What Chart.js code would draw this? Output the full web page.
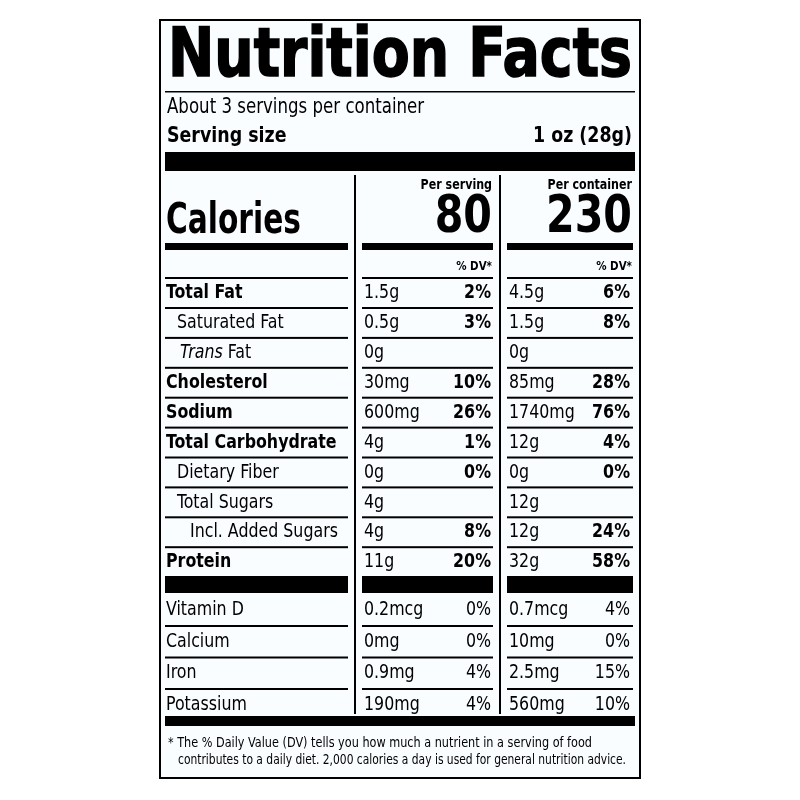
<!DOCTYPE html>
<html><head><meta charset="utf-8">
<script src="https://cdn.jsdelivr.net/npm/chart.js@4"></script>
<style>html,body{margin:0;padding:0;background:#fff}</style>
</head><body>
<canvas id="c" width="800" height="800"></canvas>
<script>
const nutrients = ["Total Fat","Saturated Fat","Trans Fat","Cholesterol","Sodium","Total Carbohydrate","Dietary Fiber","Total Sugars","Incl. Added Sugars","Protein"];
const servingAmt = ["1.5g","0.5g","0g","30mg","600mg","4g","0g","4g","4g","11g"];
const servingDV = ["2%","3%","","10%","26%","1%","0%","","8%","20%"];
const containerAmt = ["4.5g","1.5g","0g","85mg","1740mg","12g","0g","12g","12g","32g"];
const containerDV = ["6%","8%","","28%","76%","4%","0%","","24%","58%"];
const boldRows = [true,false,false,true,true,true,false,false,false,true];
const indents = [0,1,1,0,0,0,1,1,2,0];
const vitamins = ["Vitamin D","Calcium","Iron","Potassium"];
const vitServingAmt = ["0.2mcg","0mg","0.9mg","190mg"];
const vitServingDV = ["0%","0%","4%","4%"];
const vitContainerAmt = ["0.7mcg","10mg","2.5mg","560mg"];
const vitContainerDV = ["4%","0%","15%","10%"];
const calories = [80, 230];

const N = "'DejaVu Sans Condensed',sans-serif";
const plugin = {
  id:'label',
  afterDraw(chart){
    const c = chart.ctx, X = v=>chart.scales.x.getPixelForValue(v), Y = v=>chart.scales.y.getPixelForValue(v);
    c.save();
    c.fillStyle='#fafdff'; c.fillRect(X(160),Y(20),X(640)-X(160),Y(778)-Y(20));
    c.strokeStyle='#000'; c.lineWidth=2; c.strokeRect(X(160),Y(20),X(640)-X(160),Y(778)-Y(20));
    c.fillStyle='#000';
    const txt=(s,x,y,font,align='left',maxW,sx=0.88)=>{c.font=font;c.textAlign=align;c.textBaseline='middle';
      const w=c.measureText(s).width; const k=maxW?maxW/w:sx;
      c.save();c.translate(X(x),Y(y));c.scale(k,1);c.fillText(s,0,0);c.restore(); return w*k;};
    const rect=(x1,y1,x2,y2)=>c.fillRect(X(x1),Y(y1),X(x2)-X(x1),Y(y2)-Y(y1));
    // title
    c.lineWidth=1.5;c.strokeStyle='#000';
    txt("Nutrition Facts",168,58,"bold 68px "+N,'left',464);
    c.font="bold 68px "+N;c.textAlign='left';c.save();c.translate(X(168),Y(58));c.scale(464/c.measureText("Nutrition Facts").width,1);c.strokeText("Nutrition Facts",0,0);c.restore();
    rect(165,91,635,92.5);
    txt("About 3 servings per container",167,108,"21px "+N);
    txt("Serving size",167,136,"bold 22px "+N);
    txt("1 oz (28g)",632,136,"bold 22px "+N,'right');
    rect(165,152,635,171);
    rect(354,175,356,714); rect(499,175,501,714);
    txt("Calories",166,222,"bold 42px "+N,'left',135);
    txt("Per serving",492,185,"bold 14px "+N,'right');
    txt("Per container",632,185,"bold 14px "+N,'right');
    txt(String(calories[0]),492,218,"bold 52px "+N,'right');
    txt(String(calories[1]),632,218,"bold 52px "+N,'right');
    const cols=[[165,348],[362,493],[507,633]];
    const hline=(y,h)=>cols.forEach(k=>rect(k[0],y,k[1],y+h));
    hline(243,7);
    txt("% DV*",492,267,"bold 13px "+N,'right');
    txt("% DV*",632,267,"bold 13px "+N,'right');
    hline(277,2);
    const rowY=i=>293+i*29.9;
    nutrients.forEach((n,i)=>{
      const y=rowY(i), f=(boldRows[i]?"bold ":"")+"20px "+N, x=166+[0,11,24][indents[i]];
      if(n==="Trans Fat"){const w=txt("Trans",x+3,y,"italic 20px "+N);txt(" Fat",x+3+w,y,"20px "+N);}
      else txt(n,x,y,f);
      txt(servingAmt[i],364,y,"20px "+N); txt(servingDV[i],491,y,"bold 20px "+N,'right');
      txt(containerAmt[i],509,y,"20px "+N); txt(containerDV[i],630,y,"bold 20px "+N,'right');
      if(i<nutrients.length-1) hline(y+14,2);
    });
    hline(576,17);
    vitamins.forEach((n,i)=>{
      const y=610+i*31.5;
      txt(n,166,y,"20px "+N);
      txt(vitServingAmt[i],364,y,"20px "+N); txt(vitServingDV[i],491,y,"20px "+N,'right');
      txt(vitContainerAmt[i],509,y,"20px "+N); txt(vitContainerDV[i],630,y,"20px "+N,'right');
      if(i<vitamins.length-1) hline(y+15,2);
    });
    rect(165,716,635,726);
    txt("* The % Daily Value (DV) tells you how much a nutrient in a serving of food",168,743,"14px "+N,'left',424);
    txt("contributes to a daily diet. 2,000 calories a day is used for general nutrition advice.",178,760,"14px "+N,'left',448);
    c.restore();
  }
};
new Chart(document.getElementById('c'),{
  type:'scatter',
  data:{datasets:[{data:[],pointRadius:0}]},
  options:{responsive:false,animation:false,layout:{padding:0},
    plugins:{legend:{display:false},tooltip:{enabled:false}},
    scales:{x:{type:'linear',min:0,max:800,display:false},y:{type:'linear',min:0,max:800,reverse:true,display:false}}},
  plugins:[plugin]
});
</script>
</body></html>
